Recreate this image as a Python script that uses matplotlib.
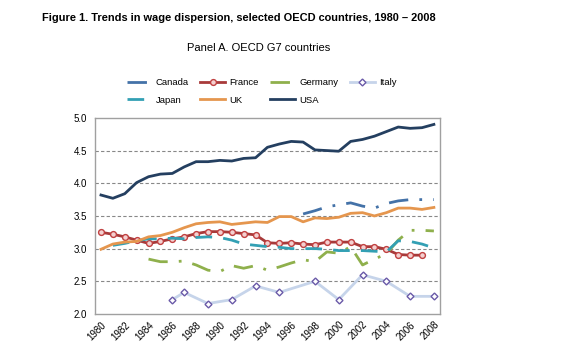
import numpy as np
import matplotlib
matplotlib.use("Agg")
import matplotlib.pyplot as plt

nan = np.nan
years = list(range(1980, 2009))

# values (nan = no data)
usa = [3.82, 3.77, 3.84, 4.01, 4.10, 4.14, 4.15, 4.25, 4.33, 4.33,
       4.35, 4.34, 4.38, 4.39, 4.55, 4.60, 4.64, 4.63, 4.51, 4.50,
       4.49, 4.64, 4.67, 4.72, 4.79, 4.86, 4.84, 4.85, 4.90]
canada = [nan] * 17 + [3.53, 3.58, 3.64, 3.67, 3.70, 3.65, 3.62, 3.69, 3.73, 3.75, 3.75, 3.75]
uk = [2.99, 3.07, 3.10, 3.11, 3.18, 3.20, 3.25, 3.32, 3.38, 3.40,
      3.41, 3.37, 3.39, 3.41, 3.40, 3.49, 3.49, 3.41, 3.47, 3.46,
      3.48, 3.54, 3.55, 3.50, 3.55, 3.62, 3.62, 3.60, 3.63]
france = [3.25, 3.22, 3.18, 3.13, 3.08, 3.11, 3.15, 3.18, 3.23, 3.26,
          3.26, 3.25, 3.23, 3.21, 3.09, 3.08, 3.09, 3.07, 3.06, 3.10,
          3.10, 3.10, 3.03, 3.03, 2.99, 2.91, 2.90, 2.90, nan]
japan = [nan, 3.05, 3.08, 3.12, 3.15, 3.15, 3.16, 3.15, 3.17, 3.18,
         3.17, 3.13, 3.07, 3.05, 3.03, 3.02, 3.00, 3.00, 3.00, 2.99,
         2.97, 2.97, 2.97, 2.96, 2.95, 3.12, 3.11, 3.07, 3.01]
germany = [nan] * 4 + [2.84, 2.80, 2.80, 2.81, 2.75, 2.67, 2.65, 2.74, 2.70, 2.74,
                       2.67, 2.72, 2.78, 2.83, 2.80, 2.95, 2.93, 3.03, 2.75, 2.84,
                       2.92, 3.13, 3.28, 3.28, 3.27]
italy = [nan] * 6 + [2.22, 2.33, nan, 2.16, nan, 2.22, nan, 2.43, nan, 2.33,
                     nan, nan, 2.50, nan, 2.22, nan, 2.60, nan, 2.50, nan,
                     2.27, nan, 2.27]

x = np.arange(len(years))

fig = plt.figure(figsize=(5.69, 3.54), dpi=100)
plt.rcParams["font.family"] = ["Liberation Sans", "DejaVu Sans"]
ax = fig.add_axes([0.167, 0.113, 0.606, 0.554])

def valid(vals):
    v = np.array(vals, dtype=float)
    m = ~np.isnan(v)
    return x[m], v[m]

h = {}
xi, yi = valid(canada)
h["Canada"], = ax.plot(xi, yi, color="#4472a8", lw=2, dashes=[7, 4, 1, 4])
xi, yi = valid(france)
h["France"], = ax.plot(xi, yi, color="#a83a3a", lw=2, marker="o", ms=4.2,
                       mfc="#f4d0d0", mec="#c04040", mew=1)
xi, yi = valid(germany)
h["Germany"], = ax.plot(xi, yi, color="#8fb04c", lw=2, dashes=[7, 4, 1, 4])
xi, yi = valid(italy)
h["Italy"], = ax.plot(xi, yi, color="#c6d4ea", lw=2, marker="D", ms=3.5,
                      mfc="white", mec="#6a5aa8", mew=1)
xi, yi = valid(japan)
h["Japan"], = ax.plot(xi, yi, color="#33a0b4", lw=2, dashes=[6, 4])
xi, yi = valid(uk)
h["UK"], = ax.plot(xi, yi, color="#e5964e", lw=2)
xi, yi = valid(usa)
h["USA"], = ax.plot(xi, yi, color="#243f60", lw=2)

ax.set_xlim(-0.5, len(years) - 0.5)
ax.set_ylim(2.0, 5.0)
ax.set_yticks(np.arange(2.0, 5.01, 0.5))
ax.set_yticklabels([f"{v:.1f}" for v in np.arange(2.0, 5.01, 0.5)], fontsize=7)
ax.set_xticks(x[::2])
ax.set_xticklabels([str(y) for y in years[::2]], rotation=45, fontsize=7,
                   ha="right", rotation_mode="anchor")
ax.tick_params(axis="y", length=0, pad=6)
ax.tick_params(axis="x", length=0, pad=4)
for g in [2.5, 3.0, 3.5, 4.0, 4.5]:
    ax.axhline(g, color="#888888", lw=0.8, ls=(0, (3, 2)), zorder=0)
for s in ax.spines.values():
    s.set_color("#a0a0a0")
    s.set_linewidth(1)

fig.text(0.074, 0.948, "Figure 1. Trends in wage dispersion, selected OECD countries, 1980 \u2013 2008",
         fontsize=7.9, fontweight="bold", va="center")
fig.text(0.455, 0.865, "Panel A. OECD G7 countries", fontsize=8, ha="center", va="center")

order = ["Canada", "Japan", "France", "UK", "Germany", "USA", "Italy"]
fig.legend([h[k] for k in order], order, ncol=4, loc="center",
           bbox_to_anchor=(0.46, 0.742), frameon=False, fontsize=6.8,
           handlelength=2.6, columnspacing=1.2, handletextpad=0.5, labelspacing=0.9)

fig.savefig("out.png", dpi=100)
